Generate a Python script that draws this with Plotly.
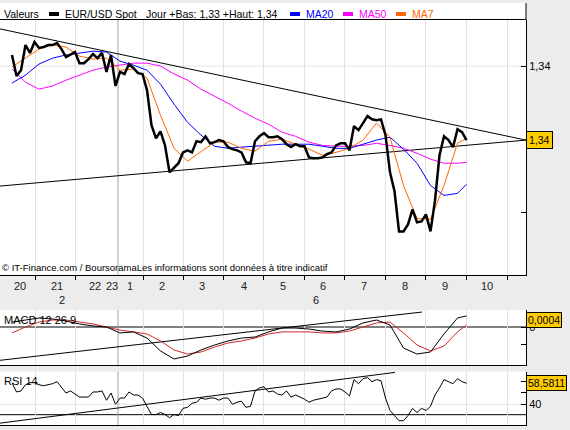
import plotly.graph_objects as go

W, H = 570, 430
PLOT_W = 526
FONT = "Liberation Sans"

# intraday bar index (one bar ~ 1/9 hour)
T = list(range(102))
T_SLOW = list(range(0, 100, 3)) + [101]

PRICE = [1.34538, 1.34466, 1.34486, 1.34572, 1.34545, 1.34582, 1.34562, 1.34565, 1.34572, 1.34572,
         1.34579, 1.34558, 1.34531, 1.34541, 1.34548, 1.34510, 1.34510, 1.34524, 1.34541, 1.34527,
         1.34545, 1.34480, 1.34538, 1.34432, 1.34480, 1.34473, 1.34507, 1.34493, 1.34476, 1.34473,
         1.34418, 1.34298, 1.34253, 1.34277, 1.34229, 1.34137, 1.34154, 1.34168, 1.34205, 1.34212,
         1.34205, 1.34243, 1.34240, 1.34260, 1.34236, 1.34240, 1.34247, 1.34243, 1.34223, 1.34216,
         1.34212, 1.34205, 1.34171, 1.34168, 1.34243, 1.34260, 1.34271, 1.34257, 1.34257, 1.34260,
         1.34250, 1.34233, 1.34223, 1.34233, 1.34226, 1.34226, 1.34188, 1.34185, 1.34185, 1.34188,
         1.34199, 1.34205, 1.34229, 1.34236, 1.34236, 1.34212, 1.34295, 1.34281, 1.34305, 1.34329,
         1.34318, 1.34315, 1.34318, 1.34264, 1.34137, 1.34072, 1.33935, 1.33935, 1.33959, 1.34010,
         1.33966, 1.33969, 1.33993, 1.33935, 1.34041, 1.34195, 1.34260, 1.34247, 1.34223, 1.34284,
         1.34274, 1.34247]

MA7 = [1.34497, 1.34527, 1.34558, 1.34572, 1.34565, 1.34534, 1.34524, 1.34527, 1.34486, 1.34490,
       1.34459, 1.34332, 1.34219, 1.34175, 1.34209, 1.34240, 1.34240, 1.34219, 1.34209, 1.34243,
       1.34250, 1.34233, 1.34216, 1.34195, 1.34205, 1.34219, 1.34247, 1.34305, 1.34257, 1.34092,
       1.33979, 1.33976, 1.34092, 1.34236, 1.34253]

MA20 = [1.34442, 1.34469, 1.34507, 1.34527, 1.34538, 1.34545, 1.34551, 1.34548, 1.34517, 1.34503,
        1.34486, 1.34438, 1.34370, 1.34308, 1.34264, 1.34226, 1.34219, 1.34223, 1.34226, 1.34229,
        1.34233, 1.34233, 1.34233, 1.34226, 1.34219, 1.34219, 1.34233, 1.34247, 1.34257, 1.34216,
        1.34168, 1.34092, 1.34058, 1.34065, 1.34096]

MA50 = [1.34490, 1.34445, 1.34421, 1.34432, 1.34452, 1.34469, 1.34486, 1.34497, 1.34503, 1.34510,
        1.34510, 1.34500, 1.34473, 1.34452, 1.34421, 1.34397, 1.34373, 1.34346, 1.34322, 1.34301,
        1.34274, 1.34260, 1.34240, 1.34229, 1.34226, 1.34226, 1.34229, 1.34236, 1.34229, 1.34219,
        1.34202, 1.34182, 1.34168, 1.34168, 1.34171]

MACD = [0.00029, 0.00041, 0.00053, 0.00047, 0.00035, 0.00018, 0.00006, 0.00000, -0.00035, -0.00029,
        -0.00065, -0.00141, -0.00188, -0.00171, -0.00135, -0.00106, -0.00082, -0.00065, -0.00059, -0.00029,
        -0.00006, -0.00006, -0.00012, -0.00024, -0.00029, -0.00012, 0.00024, 0.00041, 0.00012, -0.00124,
        -0.00159, -0.00147, -0.00041, 0.00053, 0.00065]

SIGNAL = [-0.00035, 0.00000, 0.00029, 0.00041, 0.00041, 0.00029, 0.00018, 0.00000, -0.00018, -0.00029,
          -0.00041, -0.00082, -0.00135, -0.00159, -0.00147, -0.00118, -0.00094, -0.00082, -0.00065, -0.00041,
          -0.00029, -0.00029, -0.00029, -0.00035, -0.00035, -0.00024, 0.00000, 0.00024, 0.00029, -0.00035,
          -0.00106, -0.00141, -0.00112, -0.00029, 0.00012]

RSI = [59.1, 50.9, 51.8, 57.3, 59.1, 59.1, 57.3, 56.4, 57.3, 58.2,
       60.0, 55.5, 50.0, 51.8, 49.1, 46.4, 46.4, 46.4, 50.9, 50.9,
       51.8, 43.6, 50.0, 40.0, 45.5, 45.5, 50.9, 48.2, 48.2, 45.5,
       38.2, 30.9, 30.9, 32.7, 30.9, 28.2, 30.9, 30.0, 36.4, 37.3,
       40.9, 41.8, 45.5, 44.5, 45.5, 45.5, 43.6, 45.5, 45.5, 40.0,
       41.8, 42.7, 37.3, 38.2, 51.8, 54.5, 55.5, 50.9, 51.8, 49.1,
       48.2, 51.8, 46.4, 48.2, 46.4, 44.5, 41.8, 43.6, 44.5, 45.5,
       46.4, 51.8, 53.6, 53.6, 50.9, 47.3, 61.8, 58.2, 62.7, 63.6,
       60.0, 61.8, 60.9, 45.5, 34.5, 30.0, 25.5, 25.5, 30.0, 36.4,
       32.7, 36.4, 34.5, 38.2, 48.2, 54.5, 61.8, 60.0, 58.2, 62.7,
       60.0, 58.5811]

# trend lines drawn by hand on the chart (start / end)
TREND_T = [-2.67, 114.22]
RESISTANCE = [1.34627, 1.34247]
SUPPORT = [1.34090, 1.34247]
MACD_TREND_T = [-2.67, 91.11]
MACD_TREND = [-0.00196, 0.00088]
RSI_TREND_T = [-2.67, 85.11]
RSI_TREND = [23.3, 68.2]

# time axis
HOUR_GRID_T = [5.11, 14.22, 29.11, 38.0, 46.89, 55.78, 64.89, 73.78, 82.89, 91.78, 100.89, 110.0]
SESSION_T = 23.56
HOUR_LABELS = ["20", "21", "22", "23", "1", "2", "3", "4", "5", "6", "7", "8", "9", "10"]
HOUR_LABEL_T = [1.78, 10.0, 18.44, 22.22, 26.22, 33.33, 42.22, 51.56, 60.22, 69.11, 78.22, 87.33, 96.22, 105.56]
DAY_LABELS = ["2", "6"]
DAY_LABEL_T = [11.11, 67.56]

LAST_PRICE, LAST_MACD, LAST_RSI = 1.34247, 0.0004, 58.5811
X_RANGE = [-2.667, 114.22]


def py(p):
    # pixel row -> paper fraction
    return 1 - p / H


def pxx(p):
    # pixel column -> paper fraction of the plot width
    return p / PLOT_W


fig = go.Figure()

# main panel
fig.add_trace(go.Scatter(x=TREND_T, y=RESISTANCE, mode="lines", line=dict(color="black", width=1)))
fig.add_trace(go.Scatter(x=TREND_T, y=SUPPORT, mode="lines", line=dict(color="black", width=1)))
fig.add_trace(go.Scatter(x=T_SLOW, y=MA50, mode="lines", line=dict(color="#FF00FF", width=1)))
fig.add_trace(go.Scatter(x=T_SLOW, y=MA20, mode="lines", line=dict(color="#0000FF", width=1)))
fig.add_trace(go.Scatter(x=T_SLOW, y=MA7, mode="lines", line=dict(color="#FF6600", width=1)))
fig.add_trace(go.Scatter(x=T, y=PRICE, mode="lines", line=dict(color="black", width=2.5)))

# MACD panel
fig.add_trace(go.Scatter(x=MACD_TREND_T, y=MACD_TREND, mode="lines", xaxis="x2", yaxis="y2",
                         line=dict(color="black", width=1)))
fig.add_trace(go.Scatter(x=T_SLOW, y=SIGNAL, mode="lines", xaxis="x2", yaxis="y2",
                         line=dict(color="#D02828", width=1)))
fig.add_trace(go.Scatter(x=T_SLOW, y=MACD, mode="lines", xaxis="x2", yaxis="y2",
                         line=dict(color="black", width=1)))

# RSI panel
fig.add_trace(go.Scatter(x=RSI_TREND_T, y=RSI_TREND, mode="lines", xaxis="x3", yaxis="y3",
                         line=dict(color="black", width=1)))
fig.add_trace(go.Scatter(x=T, y=RSI, mode="lines", xaxis="x3", yaxis="y3",
                         line=dict(color="black", width=1)))

xcommon = dict(range=X_RANGE, tickvals=HOUR_GRID_T, showticklabels=False, showgrid=True,
               gridcolor="#E2E2E2", gridwidth=1, zeroline=False, showline=True,
               linecolor="black", linewidth=1, fixedrange=True)
ycommon = dict(side="right", ticks="inside", ticklen=5, tickcolor="black", showgrid=False,
               zeroline=False, showline=True, linecolor="black", linewidth=1,
               tickfont=dict(family=FONT, size=11, color="black"), automargin=False)

fig.update_layout(
    width=W, height=H,
    margin=dict(l=0, r=W - PLOT_W, t=0, b=0),
    paper_bgcolor="#ECECEC", plot_bgcolor="white",
    showlegend=False,
    xaxis=dict(xcommon, anchor="y", domain=[0, 1], ticks="outside", ticklen=4, tickcolor="black"),
    xaxis2=dict(xcommon, anchor="y2", domain=[0, 1], ticks=""),
    xaxis3=dict(xcommon, anchor="y3", domain=[0, 1], ticks=""),
    yaxis=dict(ycommon, anchor="x", domain=[py(274.5), py(20)], range=[1.337877, 1.346575],
               tickvals=[1.340, 1.345], ticktext=["", "1,34"]),
    yaxis2=dict(ycommon, anchor="x2", domain=[py(365), py(310)], range=[-0.002235, 0.001],
                tickvals=[0, -0.001], ticktext=["0", ""]),
    yaxis3=dict(ycommon, anchor="x3", domain=[py(425.3), py(371.5)], range=[21.4, 69.0],
                tickvals=[60, 50, 40], ticktext=["", "", "40"]),
)

shapes = [
    # header strip
    dict(type="rect", xref="paper", yref="paper", x0=0, x1=1, y0=py(20), y1=py(3),
         fillcolor="white", line=dict(width=0), layer="below"),
    dict(type="line", xref="paper", yref="paper", x0=0, x1=1, y0=py(19.5), y1=py(19.5),
         line=dict(color="black", width=1)),
    dict(type="line", xref="paper", yref="paper", x0=1, x1=1, y0=py(20), y1=py(3),
         line=dict(color="black", width=1)),
    # reference levels
    dict(type="line", xref="x domain", yref="y", x0=0, x1=1, y0=1.345, y1=1.345,
         line=dict(color="#E2E2E2", width=1), layer="below"),
    dict(type="line", xref="x2 domain", yref="y2", x0=0, x1=1, y0=0, y1=0,
         line=dict(color="black", width=1), layer="below"),
    dict(type="line", xref="x3 domain", yref="y3", x0=0, x1=1, y0=40, y1=40,
         line=dict(color="#E2E2E2", width=1), layer="below"),
    dict(type="line", xref="x3 domain", yref="y3", x0=0, x1=1, y0=30.8, y1=30.8,
         line=dict(color="black", width=1), layer="below"),
]
# session break
for xa, ya in [("x", "y"), ("x2", "y2"), ("x3", "y3")]:
    shapes.append(dict(type="line", xref=xa, yref=ya + " domain", x0=SESSION_T, x1=SESSION_T,
                       y0=0, y1=1, line=dict(color="#A0A0A0", width=1), layer="below"))

# legend swatches
for x0, col in [(49, "black"), (290, "#0000FF"), (343, "#FF00FF"), (396, "#FF6600")]:
    shapes.append(dict(type="rect", xref="paper", yref="paper", x0=pxx(x0), x1=pxx(x0 + 10),
                       y0=py(16), y1=py(12), fillcolor=col, line=dict(width=0)))
fig.update_layout(shapes=shapes)

hdr = [("Valeurs", 2, "black"), ("EUR/USD Spot", 63, "black"),
       ("Jour +Bas: 1,33 +Haut: 1,34", 144, "black"),
       ("MA20", 304, "#0000FF"), ("MA50", 357, "#FF00FF"), ("MA7", 410, "#FF6600")]
for text, x0, col in hdr:
    fig.add_annotation(text=text, xref="paper", yref="paper", x=pxx(x0), y=py(14),
                       xanchor="left", yanchor="middle", showarrow=False,
                       font=dict(family=FONT, size=10.5, color=col))

fig.add_annotation(text="© IT-Finance.com / BoursoramaLes informations sont données à titre indicatif",
                   xref="paper", yref="paper", x=pxx(0), y=py(267), xanchor="left", yanchor="middle",
                   showarrow=False, font=dict(family=FONT, size=9.5, color="black"))
fig.add_annotation(text="MACD 12 26 9", xref="paper", yref="paper", x=pxx(2), y=py(320),
                   xanchor="left", yanchor="middle", showarrow=False,
                   font=dict(family=FONT, size=11, color="black"))
fig.add_annotation(text="RSI 14", xref="paper", yref="paper", x=pxx(2), y=py(381),
                   xanchor="left", yanchor="middle", showarrow=False,
                   font=dict(family=FONT, size=11, color="black"))

for lab, t in zip(HOUR_LABELS, HOUR_LABEL_T):
    fig.add_annotation(text=lab, xref="x", yref="paper", x=t, y=py(286), xanchor="center",
                       yanchor="middle", showarrow=False, font=dict(family=FONT, size=11, color="#222"))
for lab, t in zip(DAY_LABELS, DAY_LABEL_T):
    fig.add_annotation(text=lab, xref="x", yref="paper", x=t, y=py(300), xanchor="center",
                       yanchor="middle", showarrow=False, font=dict(family=FONT, size=11, color="#222"))

# last value boxes
for yref, val, txt, pad in [("y", LAST_PRICE, "1,34", 2), ("y2", LAST_MACD, "0,0004", 1),
                            ("y3", LAST_RSI, "58,5811", 1)]:
    fig.add_annotation(text=txt, xref="paper", yref=yref, x=1, y=val, xanchor="left", yanchor="middle",
                       showarrow=False, bgcolor="#FFCC00", bordercolor="black", borderwidth=1,
                       borderpad=pad, font=dict(family=FONT, size=10.5, color="black"))

fig.write_html("out.html", config={"displayModeBar": False},
               post_script="document.body.style.margin='0';")
